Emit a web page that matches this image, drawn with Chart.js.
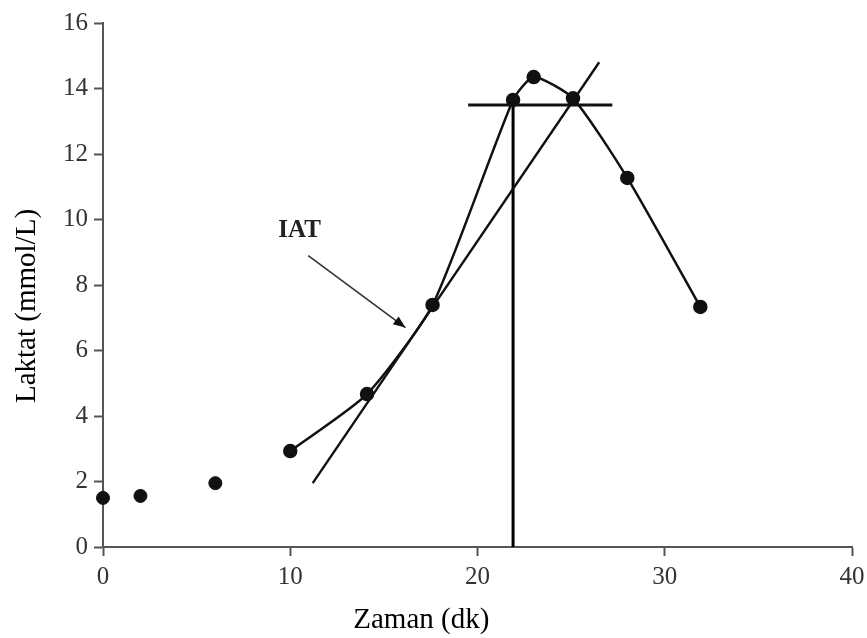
<!DOCTYPE html>
<html><head><meta charset="utf-8">
<script src="https://cdn.jsdelivr.net/npm/chart.js@4"></script>
<style>html,body{margin:0;padding:0;background:#fff}</style>
</head><body>
<canvas id="c" width="867" height="638"></canvas>
<script>
// ---- data ----
const restTimes = [0, 2, 6];
const restLactate = [1.5, 1.56, 1.95];
const testTimes = [10, 14.1, 17.6, 21.9, 23.0, 25.1, 28.0, 31.9];
const testLactate = [2.93, 4.67, 7.39, 13.65, 14.35, 13.7, 11.27, 7.33];
const fitTimes = [11.2, 26.5];
const fitLactate = [1.95, 14.8];
const plateauTimes = [19.5, 27.2];
const plateauLactate = [13.5, 13.5];
const thresholdTimes = [21.9, 21.9];
const thresholdLactate = [0, 13.65];
const arrowTimes = [10.96, 16.15];
const arrowLactate = [8.9, 6.7];
const iatLabel = 'IAT';
const xTicks = [0, 10, 20, 30, 40];
const yTicks = [0, 2, 4, 6, 8, 10, 12, 14, 16];
const xTitle = 'Zaman (dk)';
const yTitle = 'Laktat (mmol/L)';

const pts = (xs, ys) => xs.map((v, i) => ({x: v, y: ys[i]}));
const serif = '"Liberation Serif", "Times New Roman", serif';

const overlay = {
  id: 'overlay',
  afterDatasetsDraw(chart) {
    const {ctx, scales: {x, y}} = chart;
    const x0 = x.getPixelForValue(arrowTimes[0]), y0 = y.getPixelForValue(arrowLactate[0]);
    const x1 = x.getPixelForValue(arrowTimes[1]), y1 = y.getPixelForValue(arrowLactate[1]);
    const ang = Math.atan2(y1 - y0, x1 - x0);
    const L = 13, w = 0.38;
    ctx.save();
    ctx.fillStyle = '#111';
    ctx.beginPath();
    ctx.moveTo(x1, y1);
    ctx.lineTo(x1 - L * Math.cos(ang - w), y1 - L * Math.sin(ang - w));
    ctx.lineTo(x1 - L * Math.cos(ang + w), y1 - L * Math.sin(ang + w));
    ctx.closePath();
    ctx.fill();
    // IAT label
    ctx.font = 'bold 25px ' + serif;
    ctx.textAlign = 'center';
    ctx.textBaseline = 'middle';
    ctx.fillStyle = '#222';
    ctx.fillText(iatLabel, x.getPixelForValue(10.5), y.getPixelForValue(9.65));
    // axis titles
    ctx.font = '29px ' + serif;
    ctx.fillStyle = '#000';
    ctx.textBaseline = 'alphabetic';
    ctx.fillText(xTitle, x.getPixelForValue(17), 628);
    ctx.translate(35, 306);
    ctx.rotate(-Math.PI / 2);
    ctx.fillText(yTitle, 0, 0);
    ctx.restore();
  }
};

const tickFont = {family: serif, size: 25};
new Chart(document.getElementById('c'), {
  type: 'scatter',
  data: {
    datasets: [
      {data: pts(restTimes, restLactate), showLine: false, pointRadius: 6.5, backgroundColor: '#111', borderColor: '#111', clip: false},
      {data: pts(testTimes, testLactate), showLine: true, tension: 0.2, borderColor: '#111', borderWidth: 2.5, pointRadius: 6, backgroundColor: '#111', pointBorderColor: '#111', clip: false},
      {data: pts(fitTimes, fitLactate), showLine: true, pointRadius: 0, borderColor: '#111', borderWidth: 2.4},
      {data: pts(plateauTimes, plateauLactate), showLine: true, pointRadius: 0, borderColor: '#111', borderWidth: 3},
      {data: pts(thresholdTimes, thresholdLactate), showLine: true, pointRadius: 0, borderColor: '#000', borderWidth: 3},
      {data: pts(arrowTimes, arrowLactate), showLine: true, pointRadius: 0, borderColor: '#333', borderWidth: 1.6}
    ]
  },
  options: {
    responsive: false,
    animation: false,
    devicePixelRatio: 1,
    layout: {padding: {left: 5, top: 23, right: 15, bottom: 0}},
    plugins: {legend: {display: false}, tooltip: {enabled: false}},
    scales: {
      x: {
        type: 'linear', min: 0, max: 40,
        afterBuildTicks: s => { s.ticks = xTicks.map(v => ({value: v})); },
        afterFit: s => { s.height = 91; s.paddingLeft = 0; s.paddingRight = 0; },
        ticks: {font: tickFont, color: '#333', padding: 6, maxRotation: 0},
        grid: {drawOnChartArea: false, drawTicks: true, tickLength: 9, tickWidth: 2, color: '#555'},
        border: {display: true, color: '#555', width: 2},
        title: {display: false}
      },
      y: {
        type: 'linear', min: 0, max: 16,
        afterBuildTicks: s => { s.ticks = yTicks.map(v => ({value: v})); },
        afterFit: s => { s.width = 98; s.paddingTop = 0; s.paddingBottom = 0; },
        ticks: {font: tickFont, color: '#333', padding: 6},
        grid: {drawOnChartArea: false, drawTicks: true, tickLength: 9, tickWidth: 2, color: '#555'},
        border: {display: true, color: '#555', width: 2},
        title: {display: false}
      }
    }
  },
  plugins: [overlay]
});
</script>
</body></html>
